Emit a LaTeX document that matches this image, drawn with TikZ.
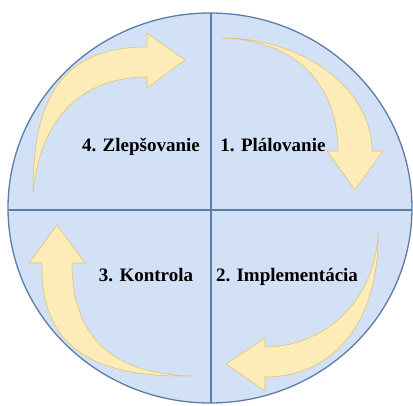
\documentclass[tikz,border=0pt]{standalone}
\usepackage{fontspec}
\setmainfont{Liberation Serif}
\definecolor{quadblue}{RGB}{210,225,246}
\definecolor{rimblue}{RGB}{92,125,168}
\definecolor{arrowfill}{RGB}{254,236,184}
\definecolor{arrowrim}{RGB}{222,196,120}
\begin{document}
\begin{tikzpicture}[x=1pt,y=-1pt]
\tikzset{cycle arrow/.style={fill=arrowfill,draw=arrowrim,line width=0.6pt,line join=round}}
\tikzset{phase/.style={font=\fontsize{19}{22}\selectfont\bfseries,inner sep=0pt,anchor=base}}
\useasboundingbox (0,0) rectangle (413,406);
% Draw the circle
\draw[fill=quadblue,draw=rimblue,line width=1.3pt] (210,208) ellipse [x radius=202,y radius=195];
% the quarters
\coordinate (top) at (211,13);
\coordinate (bottom) at (211,403);
\coordinate (left) at (8,210);
\coordinate (right) at (412,210);
\draw[rimblue,line width=1.2pt] (top) -- (bottom);
\draw[rimblue,line width=1.2pt] (left) -- (right);
% the arrows -- clockwise
\draw[cycle arrow] (222,38) .. controls (304,38) and (372,89) .. (372,151)
  -- (383,151) -- (355,190) -- (327,151) -- (338,151)
  .. controls (338,85) and (296,40) .. (222,38) -- cycle;
\draw[cycle arrow] (378,231) .. controls (380,320) and (335,377) .. (265,377)
  -- (265,391) -- (226,364) -- (265,338) -- (265,347)
  .. controls (320,347) and (376,305) .. (378,231) -- cycle;
\draw[cycle arrow] (192,376) .. controls (90,378) and (40,345) .. (42,263)
  -- (29,263) -- (57,225) -- (85,263) -- (72,263)
  .. controls (72,335) and (110,374) .. (192,376) -- cycle;
\draw[cycle arrow] (33,193) .. controls (33,100) and (60,47) .. (147,47)
  -- (147,33) -- (185,60) -- (147,88) -- (147,77)
  .. controls (95,77) and (42,104) .. (33,193) -- cycle;
% the phases
\node[phase] (plan) at (273,152) {1. Plálovanie};
\node[phase] (impl) at (287,282) {2. Implementácia};
\node[phase] (check) at (146,282) {3. Kontrola};
\node[phase] (improve) at (141,152) {4. Zlepšovanie};
\end{tikzpicture}
\end{document}
